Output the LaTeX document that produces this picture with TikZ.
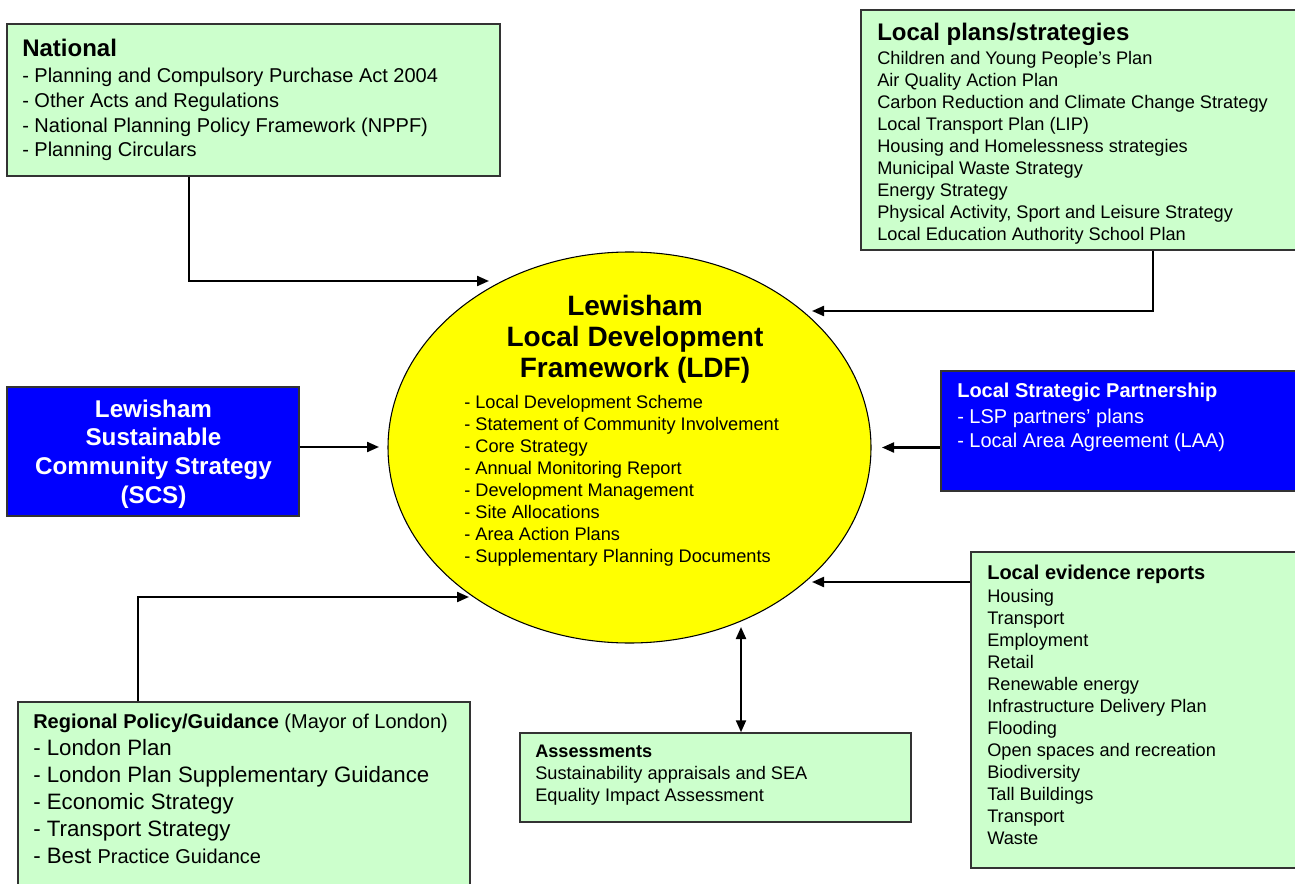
\documentclass[tikz,border=0pt]{standalone}
\usepackage{fontspec}
\setmainfont{Liberation Sans}
\usetikzlibrary{arrows.meta,fit,shapes.geometric}
\definecolor{boxgreen}{HTML}{CCFFCC}
\definecolor{boxblue}{HTML}{0000FF}
\definecolor{ldfyellow}{HTML}{FFFF00}
\definecolor{edgegray}{HTML}{333333}
\tikzset{
  greenbox/.style={draw=edgegray, line width=1.1pt, fill=boxgreen, inner sep=0pt, rectangle},
  bluebox/.style={draw=edgegray, line width=1.1pt, fill=boxblue, inner sep=0pt, rectangle},
  txt/.style={inner sep=0pt, anchor=base west, align=left},
  conn/.style={line width=1.6pt, -{Triangle[length=9pt,width=7.5pt]}},
  dconn/.style={line width=1.6pt, {Triangle[length=9pt,width=7.5pt]}-{Triangle[length=9pt,width=7.5pt]}},
  headL/.style={font={\fontsize{18pt}{21pt}\selectfont\bfseries}},
  headM/.style={font={\fontsize{15pt}{18pt}\selectfont\bfseries}},
  headS/.style={font={\fontsize{13.6pt}{16.5pt}\selectfont\bfseries}},
  itemS/.style={font={\fontsize{13.65pt}{16.5pt}\selectfont}},
}
\begin{document}
\begin{tikzpicture}[x=0.75pt,y=-0.75pt]
\useasboundingbox (0,0) rectangle (1295,884);
\clip (0,0) rectangle (1295,884);

% ---------- boxes ----------
\node[greenbox, fit={(7,24) (500,176)}] (nat) {};
\node[greenbox, fit={(861,10) (1310,250)}] (lp) {};
\node[bluebox, fit={(7,387) (299,516)}] (scs) {};
\node[bluebox, fit={(941,371) (1310,491)}] (lsp) {};
\node[greenbox, fit={(18,702) (470,900)}] (reg) {};
\node[greenbox, fit={(520,733) (911,822)}] (as) {};
\node[greenbox, fit={(971,552) (1310,868)}] (ev) {};
\node[draw=black, line width=0.8pt, fill=ldfyellow, ellipse, inner sep=0pt,
      minimum width=362.25pt, minimum height=293.25pt] (ldf) at (629.5,447.5) {};

% ---------- texts (multi-line nodes are anchored at the baseline of their last line) ----------
\node[txt, headL] (natH) at (22,57) {National};
\node[txt, font={\fontsize{15pt}{18.4pt}\selectfont}] (natT) at (22,156.6) {- Planning and Compulsory Purchase Act 2004\\- Other Acts and Regulations\\- National Planning Policy Framework (NPPF)\\- Planning Circulars};

\node[txt, headL] (lpH) at (877,41) {Local plans/strategies};
\node[txt, itemS] (lpT) at (877,241) {Children and Young People’s Plan\\Air Quality Action Plan\\Carbon Reduction and Climate Change Strategy\\Local Transport Plan (LIP)\\Housing and Homelessness strategies\\Municipal Waste Strategy\\Energy Strategy\\Physical Activity, Sport and Leisure Strategy\\Local Education Authority School Plan};

\node[inner sep=0pt, anchor=base, align=center, font={\fontsize{21pt}{23pt}\selectfont\bfseries}] (ldfH) at (635,377.3) {Lewisham\\Local Development\\Framework (LDF)};
\node[txt, itemS] (ldfT) at (464,562) {- Local Development Scheme\\- Statement of Community Involvement\\- Core Strategy\\- Annual Monitoring Report\\- Development Management\\- Site Allocations\\- Area Action Plans\\- Supplementary Planning Documents};

\node[inner sep=0pt, anchor=base, align=center, text=white, font={\fontsize{18.15pt}{21.5pt}\selectfont\bfseries}] (scsT) at (153.5,503) {Lewisham\\Sustainable\\Community Strategy\\(SCS)};

\node[txt, headM, text=white] (lspH) at (957,397) {Local Strategic Partnership};
\node[txt, text=white, font={\fontsize{15pt}{18pt}\selectfont}] (lspT) at (957,447) {- LSP partners’ plans\\- Local Area Agreement (LAA)};

\node[txt, font={\fontsize{15pt}{18pt}\selectfont}] (regH) at (33,728) {\textbf{Regional Policy/Guidance} (Mayor of London)};
\node[txt, font={\fontsize{16.7pt}{20.25pt}\selectfont}] (regT) at (33,863.7) {- London Plan\\- London Plan Supplementary Guidance\\- Economic Strategy\\- Transport Strategy\\- Best {\fontsize{15pt}{20.25pt}\selectfont Practice Guidance}};

\node[txt, headS] (asH) at (535,757) {Assessments};
\node[txt, itemS] (asT) at (535,801) {Sustainability appraisals and SEA\\Equality Impact Assessment};

\node[txt, headM] (evH) at (987,579) {Local evidence reports};
\node[txt, itemS] (evT) at (987,844.7) {Housing\\Transport\\Employment\\Retail\\Renewable energy\\Infrastructure Delivery Plan\\Flooding\\Open spaces and recreation\\Biodiversity\\Tall Buildings\\Transport\\Waste};

% ---------- connector points ----------
\coordinate (natKnee) at (189,281);
\coordinate (natTip) at (489,281);
\coordinate (lpKnee) at (1153,311);
\coordinate (lpTip) at (812,311);
\coordinate (scsTip) at (379,447);
\coordinate (lspTip) at (882,447.5);
\coordinate (evTip) at (812,582);
\coordinate (regKnee) at (138,597);
\coordinate (regTip) at (469,597);
\coordinate (asTip) at (741,627);

% ---------- connectors ----------
\draw[conn] (nat.south -| natKnee) -- (natKnee) -- (natTip);
\draw[conn] (lp.south -| lpKnee) -- (lpKnee) -- (lpTip);
\draw[conn] (scs.east |- scsTip) -- (scsTip);
\draw[conn] (lsp.west |- lspTip) -- (lspTip);
\draw[conn] (ev.west |- evTip) -- (evTip);
\draw[conn] (reg.north -| regKnee) -- (regKnee) -- (regTip);
\draw[dconn] (asTip) -- (as.north -| asTip);
\end{tikzpicture}
\end{document}
